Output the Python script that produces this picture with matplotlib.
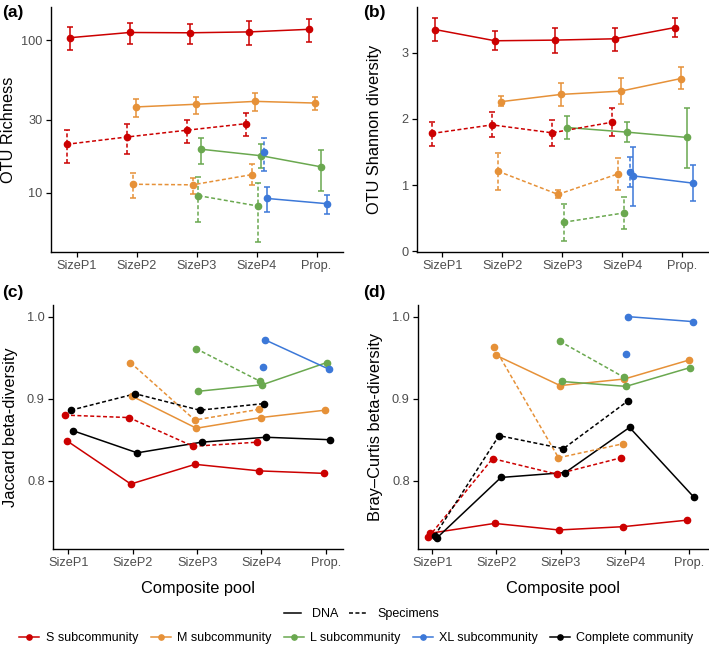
import numpy as np
import matplotlib.pyplot as plt
from matplotlib.lines import Line2D

plt.rcParams["font.family"] = ["Liberation Sans", "DejaVu Sans"]

POOLS = ["SizeP1", "SizeP2", "SizeP3", "SizeP4", "Prop."]
GROUPS = ["S", "M", "L", "XL", "C"]
GROUP_LABELS = ["S subcommunity", "M subcommunity", "L subcommunity",
                "XL subcommunity", "Complete community"]
# index of the first pool each group appears in
FIRST_POOL = {"S": 0, "M": 1, "L": 2, "XL": 3, "C": 0}

# (a) OTU richness: mean, lower, upper
rich_dna = {"S": [103.5, 112, 111.5, 113, 117.5], "M": [36.5, 38, 39.7, 38.7],
            "L": [19.3, 17.5, 14.8], "XL": [9.2, 8.5]}
rich_dna_lo = {"S": [85.5, 93.6, 94.5, 93, 96.7], "M": [31.4, 33.0, 34.4, 35.0],
               "L": [15.5, 14.6, 10.3], "XL": [7.5, 7.3]}
rich_dna_hi = {"S": [121.6, 130, 127.6, 133, 136.5], "M": [41.4, 42.4, 45.1, 42.4],
               "L": [22.9, 21.0, 19.2], "XL": [11.0, 9.75]}
rich_spec = {"S": [20.8, 23.2, 25.7, 28.4], "M": [11.4, 11.3, 13.2],
             "L": [9.6, 8.2], "XL": [18.4]}
rich_spec_lo = {"S": [15.8, 18.1, 21.2, 23.4], "M": [9.2, 9.9, 11.2],
                "L": [6.5, 4.8], "XL": [14.0]}
rich_spec_hi = {"S": [25.7, 28.2, 30.2, 33.3], "M": [13.5, 12.5, 15.5],
                "L": [12.7, 11.6], "XL": [22.9]}

# (b) OTU Shannon diversity
shan_dna = {"S": [3.35, 3.18, 3.19, 3.21, 3.38], "M": [2.26, 2.37, 2.42, 2.61],
            "L": [1.87, 1.80, 1.72], "XL": [1.14, 1.03]}
shan_dna_lo = {"S": [3.17, 3.04, 3.00, 3.03, 3.23], "M": [2.20, 2.20, 2.22, 2.45],
               "L": [1.70, 1.65, 1.26], "XL": [0.69, 0.76]}
shan_dna_hi = {"S": [3.52, 3.32, 3.37, 3.38, 3.53], "M": [2.35, 2.54, 2.62, 2.78],
               "L": [2.05, 1.95, 2.17], "XL": [1.58, 1.30]}
shan_spec = {"S": [1.78, 1.91, 1.79, 1.95], "M": [1.21, 0.86, 1.17],
             "L": [0.44, 0.58], "XL": [1.20]}
shan_spec_lo = {"S": [1.59, 1.73, 1.59, 1.74], "M": [0.92, 0.80, 0.92],
                "L": [0.15, 0.34], "XL": [0.97]}
shan_spec_hi = {"S": [1.95, 2.10, 1.98, 2.16], "M": [1.48, 0.93, 1.41],
                "L": [0.72, 0.82], "XL": [1.42]}

# (c) Jaccard beta-diversity
jac_dna = {"S": [0.849, 0.796, 0.820, 0.812, 0.809], "M": [0.903, 0.864, 0.877, 0.886],
           "L": [0.909, 0.917, 0.944], "XL": [0.972, 0.936],
           "C": [0.861, 0.834, 0.847, 0.853, 0.850]}
jac_spec = {"S": [0.880, 0.877, 0.842, 0.847], "M": [0.944, 0.874, 0.887],
            "L": [0.961, 0.921], "XL": [0.939], "C": [0.886, 0.906, 0.886, 0.894]}

# (d) Bray-Curtis beta-diversity
bray_dna = {"S": [0.736, 0.748, 0.740, 0.744, 0.752], "M": [0.953, 0.916, 0.924, 0.947],
            "L": [0.921, 0.915, 0.938], "XL": [1.000, 0.994],
            "C": [0.730, 0.804, 0.810, 0.865, 0.780]}
bray_spec = {"S": [0.731, 0.827, 0.808, 0.828], "M": [0.963, 0.828, 0.845],
             "L": [0.970, 0.926], "XL": [0.954], "C": [0.733, 0.855, 0.839, 0.897]}

COLORS = {"S": "#CC0000", "M": "#E69138", "L": "#6AA84F", "XL": "#3C78D8", "C": "black"}
LW = 1.1
DASH = (0, (2.6, 1.6))

# dodge offsets (x units) per group and sample type
DODGE_AB = {("S", "spec"): -0.17, ("S", "dna"): -0.12, ("M", "spec"): -0.07,
            ("M", "dna"): -0.02, ("L", "spec"): 0.03, ("L", "dna"): 0.08,
            ("XL", "spec"): 0.13, ("XL", "dna"): 0.18}
DODGE_CD = {("S", "spec"): -0.06, ("S", "dna"): -0.03, ("M", "spec"): -0.035,
            ("M", "dna"): -0.01, ("L", "spec"): -0.015, ("L", "dna"): 0.015,
            ("XL", "spec"): 0.02, ("XL", "dna"): 0.05, ("C", "spec"): 0.04,
            ("C", "dna"): 0.07}

W, H = 709, 647


def px_axes(fig, left, right, top, bottom):
    return fig.add_axes([left / W, 1 - bottom / H, (right - left) / W, (bottom - top) / H])


def draw_series(ax, data, kind, dodge, lo=None, hi=None):
    for g in GROUPS:
        if g not in data:
            continue
        vals = np.array(data[g], dtype=float)
        xs = np.arange(FIRST_POOL[g], FIRST_POOL[g] + len(vals)) + dodge[(g, kind)]
        ls = "-" if kind == "dna" else DASH
        col = COLORS[g]
        if lo is not None:
            eb = ax.errorbar(xs, vals, yerr=[vals - np.array(lo[g]), np.array(hi[g]) - vals],
                             fmt="none", ecolor=col, elinewidth=LW, capsize=2.4,
                             capthick=LW, zorder=2)
            eb.lines[2][0].set_linestyle(ls)
        ax.plot(xs, vals, color=col, lw=LW, linestyle=ls, zorder=3)
        ax.plot(xs, vals, "o", color=col, ms=4.5, zorder=4)


def style_axes(ax, xlim, ylab):
    for s in ("top", "right"):
        ax.spines[s].set_visible(False)
    for s in ("left", "bottom"):
        ax.spines[s].set_linewidth(1.0)
    ax.tick_params(direction="out", length=3.5, width=0.9, colors="black",
                   labelcolor="#4D4D4D", labelsize=9.2, pad=2.5)
    ax.set_xticks(range(len(POOLS)))
    ax.set_xticklabels(POOLS)
    ax.set_xlim(*xlim)
    ax.set_ylabel(ylab, fontsize=11.8)
    ax.yaxis.set_label_coords(-0.12, 0.5)


fig = plt.figure(figsize=(W / 100, H / 100), dpi=100)

ax_a = px_axes(fig, 51, 343, 7, 252)
ax_b = px_axes(fig, 417, 708, 7, 252)
ax_c = px_axes(fig, 53, 343, 305, 549)
ax_d = px_axes(fig, 418, 708, 305, 549)

# (a)
draw_series(ax_a, rich_dna, "dna", DODGE_AB, rich_dna_lo, rich_dna_hi)
draw_series(ax_a, rich_spec, "spec", DODGE_AB, rich_spec_lo, rich_spec_hi)
ax_a.set_yscale("log")
ax_a.set_ylim(4.11, 164.4)
ax_a.set_yticks([10, 30, 100])
ax_a.set_yticklabels(["10", "30", "100"])
ax_a.yaxis.set_minor_locator(plt.NullLocator())
style_axes(ax_a, (-0.43, 4.44), "OTU Richness")

# (b)
draw_series(ax_b, shan_dna, "dna", DODGE_AB, shan_dna_lo, shan_dna_hi)
draw_series(ax_b, shan_spec, "spec", DODGE_AB, shan_spec_lo, shan_spec_hi)
ax_b.set_ylim(-0.01, 3.69)
ax_b.set_yticks([0, 1, 2, 3])
style_axes(ax_b, (-0.42, 4.43), "OTU Shannon diversity")

# (c)
draw_series(ax_c, jac_dna, "dna", DODGE_CD)
draw_series(ax_c, jac_spec, "spec", DODGE_CD)
ax_c.set_ylim(0.7168, 1.0142)
ax_c.set_yticks([0.8, 0.9, 1.0])
style_axes(ax_c, (-0.24, 4.27), "Jaccard beta-diversity")

# (d)
draw_series(ax_d, bray_dna, "dna", DODGE_CD)
draw_series(ax_d, bray_spec, "spec", DODGE_CD)
ax_d.set_ylim(0.7168, 1.0142)
ax_d.set_yticks([0.8, 0.9, 1.0])
style_axes(ax_d, (-0.22, 4.29), "Bray\u2013Curtis beta-diversity")

for ax in (ax_c, ax_d):
    ax.set_xlabel("Composite pool", fontsize=11.8)
    ax.xaxis.set_label_coords(0.5, -0.131)

for letter, x, y in (("(a)", 2, 13), ("(b)", 363, 13), ("(c)", 2, 292), ("(d)", 363, 292)):
    fig.text(x / W, 1 - y / H, letter, fontsize=12.5, fontweight="bold", va="center", ha="left")

# legends
type_handles = [Line2D([], [], color="black", lw=LW, linestyle="-"),
                Line2D([], [], color="black", lw=LW, linestyle=DASH)]
fig.legend(type_handles, ["DNA", "Specimens"], loc="center", ncol=2,
           bbox_to_anchor=(361.5 / W, 1 - 614 / H), frameon=False, fontsize=9,
           handlelength=1.4, handletextpad=0.9, columnspacing=0.8, borderpad=0)

group_handles = [Line2D([], [], color=COLORS[g], lw=LW, marker="o", ms=3.8)
                 for g in GROUPS]
fig.legend(group_handles, GROUP_LABELS, loc="center", ncol=5,
           bbox_to_anchor=(356.5 / W, 1 - 638 / H), frameon=False, fontsize=9,
           handlelength=1.6, handletextpad=0.5, columnspacing=1.0, borderpad=0)

fig.savefig("out.png", dpi=100)
